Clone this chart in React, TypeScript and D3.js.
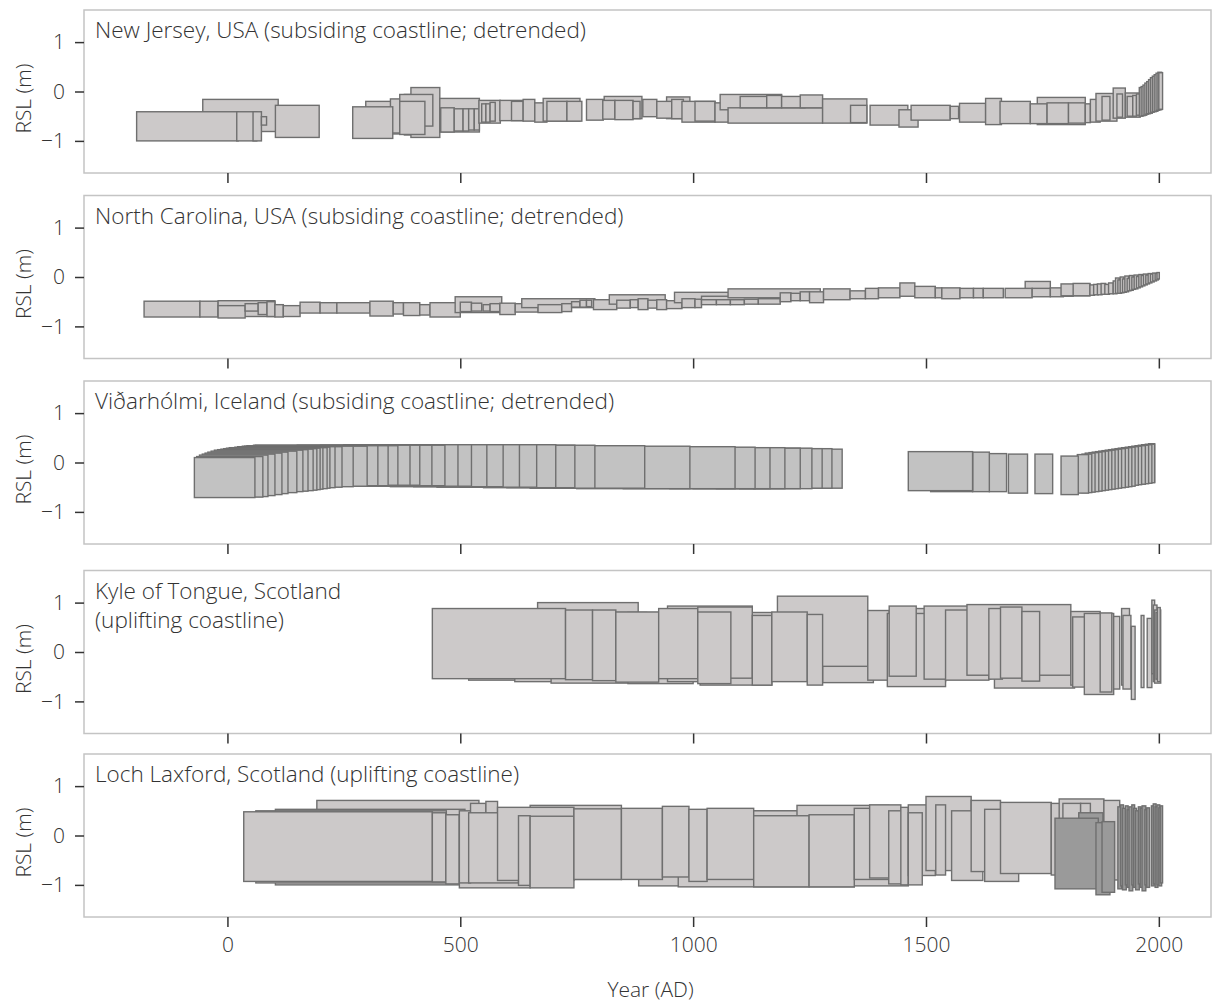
import React, { useEffect, useRef } from "react";
import * as d3 from "d3";

// Each index point: [start year, end year, lower RSL (m), upper RSL (m)]
type Box = [number, number, number, number];

const newJersey: Box[] = [
  [-53, 109, -0.81, -0.16],
  [-195, 23, -1.0, -0.41],
  [20, 63, -1.0, -0.41],
  [55, 73, -1.0, -0.41],
  [73, 84, -0.68, -0.51],
  [103, 197, -0.93, -0.28],
  [297, 385, -0.86, -0.2],
  [350, 405, -0.84, -0.15],
  [380, 425, -0.88, -0.06],
  [269, 355, -0.95, -0.31],
  [394, 456, -0.93, 0.08],
  [370, 441, -0.7, -0.06],
  [370, 424, -0.87, -0.2],
  [456, 541, -0.82, -0.14],
  [458, 487, -0.82, -0.33],
  [487, 506, -0.8, -0.35],
  [506, 518, -0.8, -0.35],
  [518, 530, -0.78, -0.35],
  [530, 541, -0.78, -0.35],
  [540, 586, -0.64, -0.18],
  [546, 555, -0.62, -0.25],
  [555, 564, -0.62, -0.25],
  [564, 575, -0.6, -0.22],
  [585, 635, -0.59, -0.18],
  [610, 635, -0.59, -0.2],
  [635, 660, -0.6, -0.16],
  [660, 686, -0.62, -0.23],
  [678, 757, -0.6, -0.14],
  [686, 729, -0.6, -0.2],
  [729, 761, -0.6, -0.2],
  [771, 807, -0.58, -0.16],
  [809, 890, -0.55, -0.1],
  [806, 832, -0.56, -0.18],
  [832, 871, -0.57, -0.18],
  [871, 886, -0.55, -0.2],
  [892, 922, -0.51, -0.16],
  [943, 993, -0.55, -0.11],
  [922, 954, -0.54, -0.2],
  [954, 979, -0.55, -0.16],
  [976, 1047, -0.62, -0.2],
  [1004, 1047, -0.6, -0.2],
  [1047, 1076, -0.62, -0.23],
  [1058, 1190, -0.37, -0.06],
  [1075, 1278, -0.64, -0.33],
  [1101, 1158, -0.33, -0.1],
  [1158, 1190, -0.33, -0.08],
  [1190, 1240, -0.33, -0.1],
  [1230, 1278, -0.33, -0.07],
  [1278, 1373, -0.64, -0.15],
  [1338, 1373, -0.63, -0.28],
  [1380, 1461, -0.68, -0.28],
  [1442, 1483, -0.72, -0.37],
  [1468, 1552, -0.58, -0.28],
  [1552, 1570, -0.55, -0.3],
  [1572, 1628, -0.62, -0.24],
  [1628, 1662, -0.67, -0.14],
  [1739, 1842, -0.67, -0.12],
  [1659, 1724, -0.65, -0.2],
  [1724, 1760, -0.65, -0.25],
  [1760, 1806, -0.65, -0.23],
  [1806, 1842, -0.64, -0.23],
  [1842, 1853, -0.63, -0.25],
  [1853, 1874, -0.62, -0.16],
  [1865, 1910, -0.6, -0.04],
  [1878, 1895, -0.58, -0.1],
  [1902, 1928, -0.54, 0.07],
  [1910, 1922, -0.52, -0.05],
  [1928, 1960, -0.52, -0.03],
  [1932, 1944, -0.5, -0.1],
  [1944, 1952, -0.5, -0.08],
  [1952, 1960, -0.48, -0.05],
  [1958, 1966, -0.5, 0.08],
  [1962, 1970, -0.49, 0.1],
  [1966, 1974, -0.48, 0.13],
  [1970, 1978, -0.46, 0.17],
  [1974, 1982, -0.45, 0.2],
  [1978, 1986, -0.44, 0.24],
  [1982, 1990, -0.42, 0.28],
  [1986, 1994, -0.41, 0.31],
  [1990, 1998, -0.4, 0.34],
  [1994, 2002, -0.38, 0.37],
  [1998, 2006, -0.37, 0.39],
  [2000, 2008, -0.36, 0.38],
];

const northCarolina: Box[] = [
  [-179, -59, -0.81, -0.49],
  [-59, -20, -0.81, -0.49],
  [-20, 102, -0.8, -0.48],
  [-20, 38, -0.83, -0.58],
  [38, 66, -0.69, -0.54],
  [66, 85, -0.76, -0.52],
  [85, 102, -0.8, -0.5],
  [102, 120, -0.81, -0.56],
  [120, 156, -0.8, -0.58],
  [156, 199, -0.73, -0.51],
  [199, 235, -0.73, -0.52],
  [235, 306, -0.73, -0.52],
  [306, 356, -0.79, -0.49],
  [356, 378, -0.75, -0.52],
  [378, 413, -0.78, -0.52],
  [413, 435, -0.77, -0.56],
  [435, 500, -0.81, -0.52],
  [489, 589, -0.72, -0.4],
  [500, 524, -0.7, -0.51],
  [524, 546, -0.69, -0.53],
  [549, 564, -0.69, -0.56],
  [564, 585, -0.7, -0.54],
  [585, 618, -0.76, -0.53],
  [618, 667, -0.71, -0.54],
  [632, 789, -0.62, -0.44],
  [667, 718, -0.72, -0.56],
  [718, 739, -0.7, -0.54],
  [739, 757, -0.61, -0.5],
  [757, 771, -0.61, -0.47],
  [771, 782, -0.6, -0.47],
  [786, 836, -0.66, -0.46],
  [820, 940, -0.55, -0.36],
  [836, 865, -0.63, -0.47],
  [865, 882, -0.62, -0.46],
  [882, 903, -0.66, -0.44],
  [903, 922, -0.63, -0.47],
  [922, 943, -0.66, -0.46],
  [943, 976, -0.64, -0.48],
  [960, 1100, -0.52, -0.31],
  [976, 1004, -0.62, -0.44],
  [1004, 1018, -0.62, -0.45],
  [1018, 1187, -0.46, -0.39],
  [1018, 1050, -0.56, -0.46],
  [1050, 1080, -0.56, -0.46],
  [1080, 1110, -0.56, -0.46],
  [1110, 1140, -0.55, -0.45],
  [1140, 1187, -0.55, -0.44],
  [1075, 1273, -0.42, -0.24],
  [1187, 1210, -0.5, -0.32],
  [1210, 1230, -0.48, -0.33],
  [1230, 1250, -0.48, -0.3],
  [1250, 1280, -0.52, -0.3],
  [1280, 1337, -0.46, -0.24],
  [1337, 1370, -0.44, -0.28],
  [1370, 1398, -0.44, -0.23],
  [1398, 1444, -0.42, -0.22],
  [1444, 1476, -0.39, -0.12],
  [1476, 1520, -0.42, -0.19],
  [1520, 1534, -0.42, -0.22],
  [1534, 1573, -0.44, -0.22],
  [1573, 1602, -0.42, -0.23],
  [1602, 1623, -0.42, -0.23],
  [1623, 1666, -0.42, -0.23],
  [1713, 1767, -0.3, -0.09],
  [1670, 1728, -0.42, -0.23],
  [1728, 1767, -0.4, -0.23],
  [1767, 1795, -0.4, -0.22],
  [1795, 1816, -0.39, -0.22],
  [1790, 1852, -0.38, -0.14],
  [1816, 1852, -0.38, -0.13],
  [1852, 1862, -0.37, -0.16],
  [1860, 1870, -0.36, -0.15],
  [1868, 1878, -0.36, -0.14],
  [1876, 1886, -0.35, -0.13],
  [1884, 1894, -0.35, -0.15],
  [1892, 1902, -0.34, -0.12],
  [1902, 1910, -0.34, -0.08],
  [1907, 1915, -0.33, -0.02],
  [1912, 1920, -0.33, -0.06],
  [1917, 1925, -0.32, 0.0],
  [1922, 1930, -0.31, -0.04],
  [1927, 1935, -0.3, 0.02],
  [1932, 1940, -0.28, -0.03],
  [1937, 1945, -0.27, 0.03],
  [1942, 1950, -0.25, 0.0],
  [1947, 1955, -0.24, 0.04],
  [1952, 1960, -0.22, 0.01],
  [1957, 1965, -0.2, 0.05],
  [1962, 1970, -0.18, 0.03],
  [1967, 1975, -0.16, 0.06],
  [1972, 1980, -0.14, 0.04],
  [1977, 1985, -0.12, 0.07],
  [1982, 1990, -0.1, 0.06],
  [1987, 1995, -0.08, 0.08],
  [1992, 1999, -0.06, 0.07],
  [1996, 2001, -0.04, 0.09],
];

// chronological; earlier points are stacked on top of later ones
const vidarholmi: Box[] = [
  [-71, 59, -0.71, 0.1],
  [-66, 76, -0.7, 0.12],
  [-60, 87, -0.69, 0.15],
  [-54, 102, -0.67, 0.17],
  [-48, 117, -0.65, 0.19],
  [-42, 130, -0.63, 0.21],
  [-35, 149, -0.61, 0.23],
  [-28, 162, -0.59, 0.25],
  [-21, 173, -0.58, 0.26],
  [-14, 184, -0.57, 0.27],
  [-8, 192, -0.56, 0.28],
  [-2, 199, -0.55, 0.29],
  [4, 205, -0.54, 0.3],
  [10, 214, -0.53, 0.3],
  [16, 220, -0.52, 0.31],
  [22, 231, -0.51, 0.32],
  [27, 246, -0.5, 0.32],
  [32, 270, -0.49, 0.33],
  [37, 300, -0.48, 0.33],
  [42, 323, -0.47, 0.34],
  [47, 345, -0.47, 0.34],
  [52, 366, -0.46, 0.34],
  [56, 392, -0.46, 0.35],
  [60, 413, -0.46, 0.35],
  [150, 439, -0.47, 0.35],
  [200, 467, -0.47, 0.35],
  [250, 495, -0.48, 0.36],
  [300, 524, -0.48, 0.36],
  [350, 557, -0.49, 0.36],
  [400, 592, -0.49, 0.36],
  [450, 627, -0.5, 0.36],
  [500, 664, -0.5, 0.36],
  [550, 705, -0.51, 0.36],
  [600, 746, -0.51, 0.35],
  [650, 789, -0.52, 0.35],
  [700, 896, -0.52, 0.34],
  [750, 993, -0.53, 0.33],
  [850, 1090, -0.53, 0.32],
  [950, 1133, -0.53, 0.31],
  [1000, 1165, -0.53, 0.3],
  [1050, 1197, -0.53, 0.3],
  [1100, 1230, -0.53, 0.29],
  [1130, 1255, -0.53, 0.29],
  [1160, 1277, -0.52, 0.28],
  [1190, 1298, -0.52, 0.28],
  [1220, 1320, -0.52, 0.27],
  [1462, 1600, -0.57, 0.22],
  [1510, 1600, -0.59, 0.2],
  [1600, 1636, -0.59, 0.21],
  [1636, 1673, -0.59, 0.18],
  [1677, 1718, -0.62, 0.17],
  [1734, 1772, -0.63, 0.17],
  [1790, 1827, -0.65, 0.13],
  [1825, 1849, -0.62, 0.16],
  [1835, 1856, -0.61, 0.17],
  [1842, 1863, -0.6, 0.19],
  [1850, 1871, -0.59, 0.2],
  [1857, 1878, -0.58, 0.21],
  [1864, 1885, -0.57, 0.22],
  [1871, 1892, -0.56, 0.23],
  [1878, 1899, -0.55, 0.24],
  [1885, 1906, -0.54, 0.25],
  [1892, 1913, -0.53, 0.26],
  [1899, 1920, -0.52, 0.27],
  [1906, 1928, -0.51, 0.28],
  [1913, 1935, -0.5, 0.29],
  [1920, 1942, -0.49, 0.3],
  [1928, 1949, -0.48, 0.31],
  [1935, 1956, -0.46, 0.32],
  [1942, 1963, -0.45, 0.33],
  [1949, 1971, -0.44, 0.34],
  [1956, 1978, -0.43, 0.35],
  [1963, 1985, -0.42, 0.36],
  [1971, 1991, -0.41, 0.37],
  [1978, 1991, -0.4, 0.38],
];

const kyleOfTongue: Box[] = [
  [666, 882, -0.44, 1.0],
  [518, 800, -0.57, 0.8],
  [617, 830, -0.6, 0.8],
  [695, 900, -0.63, 0.8],
  [440, 726, -0.54, 0.88],
  [726, 784, -0.56, 0.85],
  [784, 834, -0.58, 0.85],
  [860, 1000, -0.64, 0.8],
  [834, 926, -0.61, 0.81],
  [945, 1127, -0.6, 0.93],
  [926, 1010, -0.54, 0.88],
  [1015, 1169, -0.67, 0.8],
  [1010, 1127, -0.53, 0.91],
  [1010, 1081, -0.64, 0.81],
  [1127, 1169, -0.67, 0.74],
  [1278, 1387, -0.62, 0.8],
  [1181, 1375, -0.29, 1.13],
  [1169, 1245, -0.6, 0.81],
  [1245, 1278, -0.67, 0.76],
  [1375, 1421, -0.57, 0.84],
  [1440, 1542, -0.6, 0.88],
  [1417, 1542, -0.7, 0.78],
  [1421, 1479, -0.49, 0.93],
  [1496, 1639, -0.55, 0.93],
  [1542, 1635, -0.57, 0.85],
  [1647, 1819, -0.73, 0.8],
  [1588, 1811, -0.47, 0.96],
  [1635, 1664, -0.55, 0.88],
  [1660, 1706, -0.53, 0.91],
  [1706, 1744, -0.59, 0.82],
  [1811, 1874, -0.67, 0.82],
  [1815, 1861, -0.71, 0.71],
  [1840, 1903, -0.86, 0.78],
  [1874, 1899, -0.81, 0.79],
  [1903, 1916, -0.75, 0.72],
  [1920, 1937, -0.67, 0.88],
  [1923, 1940, -0.75, 0.74],
  [1941, 1949, -0.96, 0.52],
  [1962, 1968, -0.72, 0.74],
  [1975, 1985, -0.72, 0.68],
  [1985, 1991, -0.44, 1.05],
  [1988, 1996, -0.6, 0.95],
  [1991, 2004, -0.63, 0.85],
  [1994, 2000, -0.55, 0.8],
  [1997, 2003, -0.6, 0.9],
];

const lochLaxford: Box[] = [
  [192, 540, -0.71, 0.71],
  [103, 510, -1.0, 0.53],
  [61, 470, -0.96, 0.5],
  [35, 440, -0.93, 0.48],
  [440, 469, -0.94, 0.46],
  [469, 498, -0.98, 0.42],
  [498, 650, -1.06, 0.42],
  [498, 522, -0.96, 0.5],
  [522, 555, -0.75, 0.65],
  [555, 580, -0.76, 0.69],
  [518, 625, -0.96, 0.46],
  [650, 846, -0.89, 0.61],
  [580, 744, -0.91, 0.57],
  [625, 650, -1.01, 0.4],
  [650, 744, -1.06, 0.39],
  [883, 1462, -1.02, 0.5],
  [968, 1346, -1.04, 0.5],
  [744, 846, -0.89, 0.54],
  [846, 934, -0.89, 0.55],
  [934, 991, -0.84, 0.59],
  [991, 1030, -0.93, 0.53],
  [1030, 1130, -0.89, 0.55],
  [1223, 1420, -0.85, 0.61],
  [1130, 1249, -1.04, 0.4],
  [1249, 1346, -1.04, 0.42],
  [1346, 1420, -0.89, 0.55],
  [1379, 1446, -0.86, 0.62],
  [1420, 1458, -0.98, 0.5],
  [1446, 1462, -1.0, 0.57],
  [1462, 1520, -0.81, 0.62],
  [1462, 1492, -1.0, 0.46],
  [1500, 1597, -0.71, 0.79],
  [1521, 1542, -0.8, 0.62],
  [1555, 1622, -0.91, 0.5],
  [1597, 1660, -0.73, 0.71],
  [1626, 1699, -0.93, 0.53],
  [1660, 1769, -0.77, 0.67],
  [1769, 1794, -0.8, 0.65],
  [1786, 1882, -0.85, 0.74],
  [1794, 1832, -0.8, 0.65],
  [1832, 1853, -0.8, 0.65],
  [1882, 1916, -0.9, 0.71],
];

// darker-shaded index points at Loch Laxford
const lochLaxfordDark: Box[] = [
  [1828, 1880, -0.95, 0.46],
  [1777, 1870, -1.08, 0.35],
  [1865, 1895, -1.2, 0.26],
  [1878, 1905, -1.15, 0.28],
  [1912, 1920, -1.08, 0.58],
  [1918, 1924, -1.02, 0.62],
  [1922, 1930, -1.1, 0.55],
  [1928, 1934, -1.0, 0.6],
  [1932, 1938, -1.05, 0.52],
  [1936, 1944, -1.12, 0.58],
  [1942, 1948, -1.0, 0.62],
  [1946, 1952, -1.05, 0.55],
  [1950, 1958, -1.1, 0.5],
  [1956, 1962, -0.98, 0.58],
  [1960, 1966, -1.05, 0.55],
  [1964, 1972, -1.12, 0.6],
  [1970, 1976, -1.0, 0.52],
  [1974, 1980, -1.05, 0.56],
  [1984, 1990, -1.02, 0.6],
  [1988, 1994, -0.98, 0.64],
  [1992, 1998, -1.05, 0.58],
  [1996, 2002, -1.0, 0.62],
  [2000, 2006, -1.02, 0.56],
  [2003, 2008, -0.96, 0.6],
];

const siteTitles: string[][] = [
  ["New Jersey, USA (subsiding coastline; detrended)"],
  ["North Carolina, USA (subsiding coastline; detrended)"],
  ["Viðarhólmi, Iceland (subsiding coastline; detrended)"],
  ["Kyle of Tongue, Scotland", "(uplifting coastline)"],
  ["Loch Laxford, Scotland (uplifting coastline)"],
];
const yearTicks = [0, 500, 1000, 1500, 2000];
const rslTicks = [-1, 0, 1];
const yearDomain: [number, number] = [-308, 2112];
const rslDomain: [number, number] = [-1.65, 1.65];

const WIDTH = 1212;
const HEIGHT = 1003;
const PLOT_LEFT = 84;
const PLOT_RIGHT = 1211;
const PANEL_H = 163;
const PANEL_TOPS = [10, 195.5, 381, 570.5, 754];
const FONT = "'Open Sans', 'Noto Sans', sans-serif";
const TEXT = "#333333";

const LIGHT = "#ccc9c9";
const ICE = "#c2c2c2";
const DARK = "#9a9a9a";
const EDGE = "#6f6f6f";

const intFormat = d3.format("d");

export default function App() {
  const ref = useRef<SVGSVGElement>(null);

  useEffect(() => {
    const svg = d3.select(ref.current);
    svg.selectAll("*").remove();

    const x = d3.scaleLinear().domain(yearDomain).range([PLOT_LEFT, PLOT_RIGHT]);

    const panels = [
      { layers: [{ boxes: newJersey, fill: LIGHT }], earlierOnTop: false },
      { layers: [{ boxes: northCarolina, fill: LIGHT }], earlierOnTop: false },
      { layers: [{ boxes: vidarholmi, fill: ICE }], earlierOnTop: true },
      { layers: [{ boxes: kyleOfTongue, fill: LIGHT }], earlierOnTop: false },
      {
        layers: [
          { boxes: lochLaxford, fill: LIGHT },
          { boxes: lochLaxfordDark, fill: DARK },
        ],
        earlierOnTop: false,
      },
    ];

    panels.forEach((panel, i) => {
      const top = PANEL_TOPS[i];
      const y = d3.scaleLinear().domain(rslDomain).range([top + PANEL_H, top]);
      const g = svg.append("g");

      const clipId = `clip-${i}`;
      g.append("clipPath")
        .attr("id", clipId)
        .append("rect")
        .attr("x", PLOT_LEFT)
        .attr("y", top)
        .attr("width", PLOT_RIGHT - PLOT_LEFT)
        .attr("height", PANEL_H);

      const plot = g.append("g").attr("clip-path", `url(#${clipId})`);
      panel.layers.forEach((layer) => {
        const data = panel.earlierOnTop ? [...layer.boxes].reverse() : layer.boxes;
        plot
          .append("g")
          .selectAll("rect")
          .data(data)
          .join("rect")
          .attr("x", (d) => x(d[0]))
          .attr("y", (d) => y(d[3]))
          .attr("width", (d) => x(d[1]) - x(d[0]))
          .attr("height", (d) => y(d[2]) - y(d[3]))
          .attr("fill", layer.fill)
          .attr("stroke", EDGE)
          .attr("stroke-width", 1.4);
      });

      // panel frame
      g.append("rect")
        .attr("x", PLOT_LEFT)
        .attr("y", top)
        .attr("width", PLOT_RIGHT - PLOT_LEFT)
        .attr("height", PANEL_H)
        .attr("fill", "none")
        .attr("stroke", "#c4c4c4")
        .attr("stroke-width", 1.5);

      // y axis
      const yAxis = g
        .append("g")
        .attr("transform", `translate(${PLOT_LEFT},0)`)
        .call(
          d3
            .axisLeft(y)
            .tickValues(rslTicks)
            .tickSize(9)
            .tickPadding(10)
            .tickFormat((d) => intFormat(d as number))
        );
      yAxis.select(".domain").remove();
      yAxis.selectAll(".tick line").attr("stroke", TEXT).attr("stroke-width", 1.5);
      yAxis
        .selectAll(".tick text")
        .attr("fill", TEXT)
        .style("font-family", FONT)
        .style("font-weight", 300)
        .style("font-size", "21px");

      // x axis (labels only on the bottom panel)
      const last = i === PANEL_TOPS.length - 1;
      const xAxis = g
        .append("g")
        .attr("transform", `translate(0,${top + PANEL_H})`)
        .call(
          d3
            .axisBottom(x)
            .tickValues(yearTicks)
            .tickSize(10)
            .tickPadding(10)
            .tickFormat((d) => (last ? intFormat(d as number) : ""))
        );
      xAxis.select(".domain").remove();
      xAxis.selectAll(".tick line").attr("stroke", TEXT).attr("stroke-width", 1.5);
      xAxis
        .selectAll(".tick text")
        .attr("fill", TEXT)
        .style("font-family", FONT)
        .style("font-weight", 300)
        .style("font-size", "21px");

      // y axis title
      g.append("text")
        .attr("transform", `translate(31,${top + PANEL_H / 2 + 7}) rotate(-90)`)
        .attr("text-anchor", "middle")
        .attr("fill", TEXT)
        .style("font-family", FONT)
        .style("font-weight", 300)
        .style("font-size", "21px")
        .text("RSL (m)");

      // site title
      const title = g
        .append("text")
        .attr("x", 95)
        .attr("y", top + 28)
        .attr("fill", TEXT)
        .style("font-family", FONT)
        .style("font-weight", 300)
        .style("font-size", "22.5px");
      siteTitles[i].forEach((line, k) => {
        title
          .append("tspan")
          .attr("x", 95)
          .attr("dy", k === 0 ? 0 : 29)
          .text(line);
      });
    });

    svg
      .append("text")
      .attr("x", (PLOT_LEFT + PLOT_RIGHT) / 2 + 3)
      .attr("y", 997)
      .attr("text-anchor", "middle")
      .attr("fill", TEXT)
      .style("font-family", FONT)
      .style("font-weight", 300)
      .style("font-size", "21px")
      .text("Year (AD)");
  }, []);

  return (
    <svg
      ref={ref}
      width={WIDTH}
      height={HEIGHT}
      style={{ position: "absolute", left: 0, top: 0, background: "#fff" }}
    />
  );
}
